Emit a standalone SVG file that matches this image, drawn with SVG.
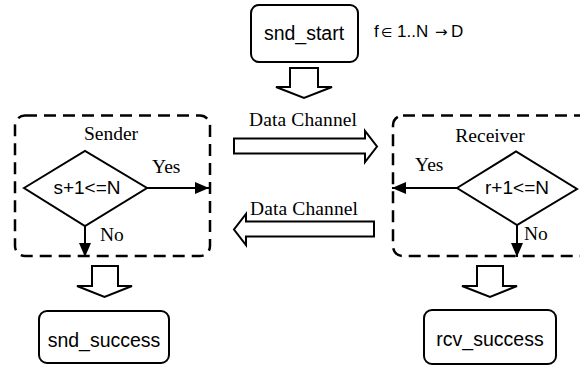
<svg xmlns="http://www.w3.org/2000/svg" width="580" height="373" viewBox="0 0 580 373">
  <defs>
    <marker id="tri" viewBox="0 0 14 12" refX="14" refY="6" markerWidth="14" markerHeight="12" markerUnits="userSpaceOnUse" orient="auto">
      <path d="M0,0 L14,6 L0,12 Z" fill="#000"/>
    </marker>
    <style>
      .box { fill: #fff; stroke: #000; stroke-width: 2; }
      .group { fill: none; stroke: #000; stroke-width: 2.5; stroke-dasharray: 12 7; }
      .dec { fill: #fff; stroke: #000; stroke-width: 2; stroke-linejoin: miter; }
      .hollow { fill: #fff; stroke: #000; stroke-width: 2; stroke-linejoin: miter; }
      .flow { fill: none; stroke: #000; stroke-width: 2; }
      .sans { font-family: "Liberation Sans", Arial, Helvetica, sans-serif; fill: #000; }
      .serif { font-family: "Liberation Serif", "Times New Roman", serif; fill: #000; font-size: 19.5px; }
    </style>
  </defs>
  <rect width="580" height="373" fill="#fff"/>

  <!-- start terminal -->
  <g id="snd_start">
    <rect class="box" x="251" y="5" width="107" height="57" rx="8"/>
    <text class="sans" x="304" y="40" font-size="19.5" text-anchor="middle">snd_start</text>
  </g>
  <g id="mapping">
    <text class="sans" font-size="17" y="37"><tspan x="374">f</tspan><tspan x="381" font-size="13" font-family="'DejaVu Sans', sans-serif">∈</tspan><tspan x="397">1..N</tspan><tspan x="435" font-family="'DejaVu Sans', sans-serif" font-size="15">→</tspan><tspan x="451">D</tspan></text>
  </g>

  <!-- sender block -->
  <g id="sender">
    <rect class="group" x="15" y="115.5" width="195" height="140.5" rx="10"/>
    <text class="serif" x="111" y="140" text-anchor="middle">Sender</text>
    <path class="dec" d="M24,188 L85,151 L147,188 L85,226 Z"/>
    <text class="sans" x="87" y="194" font-size="19" text-anchor="middle">s+1&lt;=N</text>
  </g>

  <!-- receiver block -->
  <g id="receiver">
    <rect class="group" x="393" y="115.5" width="200" height="140.5" rx="10"/>
    <text class="serif" x="490" y="141.5" text-anchor="middle">Receiver</text>
    <path class="dec" d="M457,188 L516,151.5 L577,189 L517,225 Z"/>
    <text class="sans" x="517" y="194" font-size="19" text-anchor="middle">r+1&lt;=N</text>
  </g>

  <!-- end terminals -->
  <g id="snd_success">
    <rect class="box" x="39" y="311" width="130" height="52" rx="8"/>
    <text class="sans" x="104" y="347" font-size="19.5" text-anchor="middle">snd_success</text>
  </g>
  <g id="rcv_success">
    <rect class="box" x="424" y="310" width="132" height="54" rx="8"/>
    <text class="sans" x="490" y="346" font-size="19.5" text-anchor="middle">rcv_success</text>
  </g>

  <!-- connectors -->
  <g id="connectors">
    <!-- hollow block arrows -->
    <path class="hollow" d="M290,68 L318,68 L318,87 L332,87 L304,98 L276,87 L290,87 Z"/>
    <path class="hollow" d="M92,266 L118,266 L118,286 L132,286 L104.5,297 L77,286 L92,286 Z"/>
    <path class="hollow" d="M477,266 L503,266 L503,286 L517,286 L490,297 L462,286 L477,286 Z"/>

    <!-- data channels -->
    <path class="hollow" d="M234,138.5 L365,138.5 L365,131 L377,146.5 L365,162 L365,153.5 L234,153.5 Z"/>
    <text class="serif" x="249" y="126" textLength="108">Data Channel</text>
    <path class="hollow" d="M374,221.5 L246,221.5 L246,214 L234,229.5 L246,245 L246,236.5 L374,236.5 Z"/>
    <text class="serif" x="250" y="215" textLength="108">Data Channel</text>

    <!-- sender decision branches -->
    <line class="flow" x1="147" y1="188" x2="209" y2="188" marker-end="url(#tri)"/>
    <text class="serif" x="152" y="172.5">Yes</text>
    <line class="flow" x1="85" y1="226" x2="85" y2="257" marker-end="url(#tri)"/>
    <text class="serif" x="100" y="241">No</text>

    <!-- receiver decision branches -->
    <line class="flow" x1="457" y1="188" x2="392" y2="188" marker-end="url(#tri)"/>
    <text class="serif" x="415" y="170.5">Yes</text>
    <line class="flow" x1="517" y1="225" x2="517" y2="257" marker-end="url(#tri)"/>
    <text class="serif" x="524" y="240">No</text>
  </g>
</svg>
